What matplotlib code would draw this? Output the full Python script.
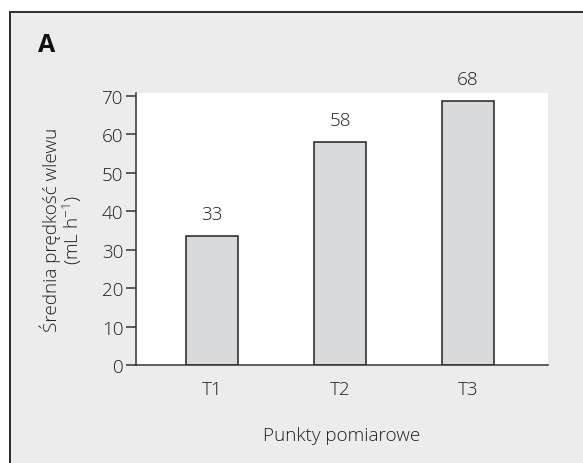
import matplotlib
matplotlib.use("Agg")
import matplotlib.pyplot as plt
import matplotlib.patches as mpatches
import numpy as np

# data
categories = ["T1", "T2", "T3"]
bar_heights = [33.5, 58, 68.7]
bar_labels = ["33", "58", "68"]
y_ticks = [0, 10, 20, 30, 40, 50, 60, 70]

plt.rcParams['font.family'] = ['Open Sans', 'DejaVu Sans']
plt.rcParams['font.weight'] = 'light'
plt.rcParams['axes.labelweight'] = 'light'
plt.rcParams['mathtext.fontset'] = 'custom'
plt.rcParams['mathtext.rm'] = 'Open Sans:light'
plt.rcParams['mathtext.it'] = 'Open Sans:light'
plt.rcParams['mathtext.default'] = 'regular'

FS = 13.6
TXT = '#1e1e1e'

W, H = 583, 464
fig = plt.figure(figsize=(W / 100, H / 100), dpi=100)
fig.patch.set_facecolor('white')

# grey panel with a dark frame (runs off the right and bottom edges)
panel = mpatches.Rectangle((10 / W, -0.1), 1.2, 1 - 13 / H + 0.1,
                           transform=fig.transFigure, facecolor='#ebeceb',
                           edgecolor='#2b2b2b', linewidth=1.4, zorder=-10)
fig.patches.append(panel)

ax = fig.add_axes([136 / W, 1 - 366 / H, (548 - 136) / W, (366 - 94) / H])
ax.set_facecolor('white')

x = np.arange(len(categories))
bars = ax.bar(x, bar_heights, width=0.405, color='#d9dadc',
              edgecolor='#222222', linewidth=1.1)
for rect, lab in zip(bars, bar_labels):
    ax.text(rect.get_x() + rect.get_width() / 2, rect.get_height() + 5.7, lab,
            ha='center', va='center', fontsize=FS, color=TXT)

ax.set_xlim(-0.594, 2.625)
ax.set_ylim(0, 70.8)
ax.set_yticks(y_ticks)
ax.set_xticks(x)
ax.set_xticklabels(categories)

for side in ['top', 'right']:
    ax.spines[side].set_visible(False)
for side in ['left', 'bottom']:
    ax.spines[side].set_color('#333333')
    ax.spines[side].set_linewidth(1.1)

ax.tick_params(axis='y', direction='out', length=7, width=1.1,
               color='#333333', labelsize=FS, labelcolor=TXT, pad=2)
ax.tick_params(axis='x', length=0, labelsize=FS, labelcolor=TXT, pad=11)

ax.set_xlabel("Punkty pomiarowe", fontsize=FS, color=TXT, labelpad=20)
ax.set_ylabel("Średnia prędkość wlewu\n(mL h$^{-1}$)", fontsize=FS,
              color=TXT, labelpad=13, linespacing=1.0)

fig.text(38 / W, 1 - 52 / H, "A", fontsize=18, fontweight='bold',
         color='#111111', ha='left', va='baseline')

plt.savefig("out.png", dpi=100, facecolor=fig.get_facecolor())
plt.close()
